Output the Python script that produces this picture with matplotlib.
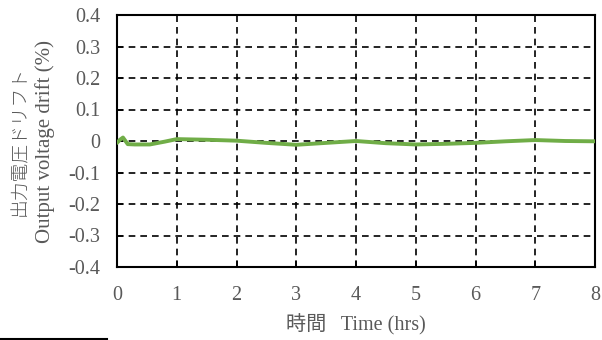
import matplotlib
matplotlib.use("Agg")
import matplotlib.pyplot as plt
from matplotlib.lines import Line2D

plt.rcParams['font.family'] = ['Liberation Serif', 'Noto Sans CJK JP']

# drift data
hours = [0, 0.05, 0.1, 0.18, 0.3, 0.55, 0.8, 1.0, 1.5, 2.0, 2.5, 3.0, 3.5, 4.0, 4.5, 5.0, 5.5, 6.0, 6.5, 7.0, 7.5, 8.0]
drift = [-0.006, 0.004, 0.011, -0.010, -0.011, -0.011, -0.002, 0.006, 0.004, 0.001, -0.006, -0.012, -0.006, 0.000, -0.007, -0.011, -0.009, -0.006, -0.001, 0.003, 0.000, -0.001]

yticks = [0.4, 0.3, 0.2, 0.1, 0, -0.1, -0.2, -0.3, -0.4]
ytick_labels = ['0.4', '0.3', '0.2', '0.1', '0', '-0.1', '-0.2', '-0.3', '-0.4']
xticks = [0, 1, 2, 3, 4, 5, 6, 7, 8]

gray = '#595959'

fig = plt.figure(figsize=(6.02, 3.4), dpi=100)
ax = fig.add_axes([117/602, 1 - 267/340, (595-117)/602, (267-15)/340])

ax.plot(hours, drift, color='#70AD47', lw=2.8, solid_capstyle='round', zorder=3)

ax.set_xlim(0, 8)
ax.set_ylim(-0.4, 0.4)
ax.set_xticks(xticks)
ax.set_xticklabels([str(t) for t in xticks])
ax.set_yticks(yticks)
ax.set_yticklabels(ytick_labels)

ax.grid(True, color='black', linestyle=(0, (4, 3)), lw=1.2)
ax.tick_params(axis='x', direction='in', length=4, width=1.2, pad=14, labelsize=14.5, labelcolor=gray)
ax.tick_params(axis='y', direction='in', length=4, width=1.2, pad=12, labelsize=14.5, labelcolor=gray)
for s in ax.spines.values():
    s.set_linewidth(1.5)
    s.set_color('black')

ax.set_xlabel('時間   Time (hrs)', fontsize=14.5, color=gray, labelpad=6)

# y label: two lines, Japanese then English
yc = 1 - 141/340
fig.text(20/602, yc, '出力電圧ドリフト', rotation=90, ha='center', va='center',
         fontsize=13.5, color=gray, fontweight='light', family=['Noto Sans CJK JP'])
fig.text(45/602, yc, 'Output voltage drift (%)', rotation=90, ha='center', va='center',
         fontsize=15, color=gray)

# short rule at bottom left
fig.add_artist(Line2D([0, 107/602], [1.5/340, 1.5/340], color='black', lw=1.5))

fig.savefig('out.png', dpi=100)
